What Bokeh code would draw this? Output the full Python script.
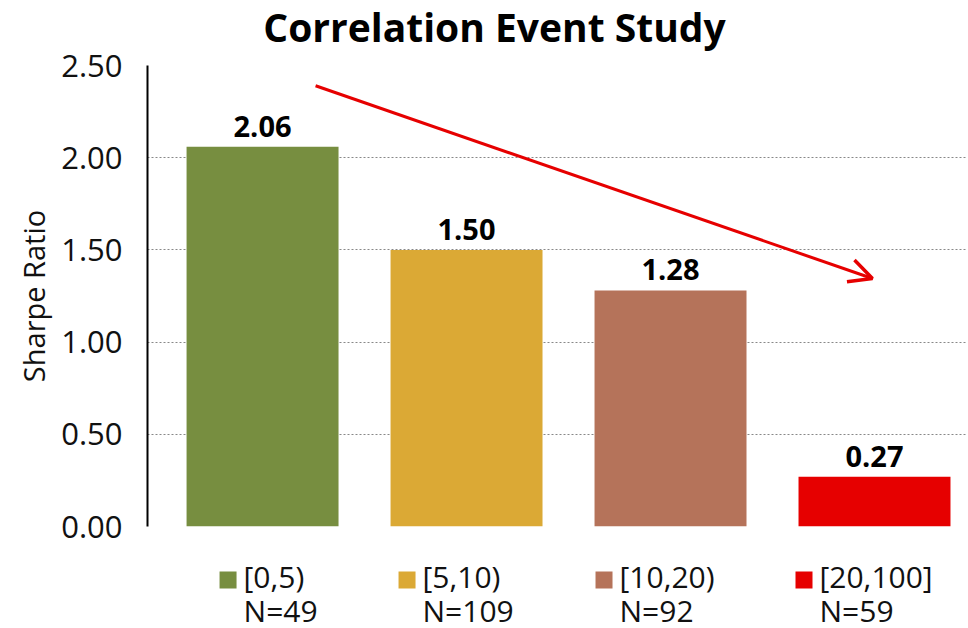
from bokeh.plotting import figure
from bokeh.layouts import column
from bokeh.models import (ColumnDataSource, Range1d, FixedTicker, NumeralTickFormatter,
                          Arrow, OpenHead, LabelSet)
from bokeh.core.properties import value
from bokeh.embed import file_html
from bokeh.resources import INLINE

# Sharpe ratio by correlation bucket
title = "Correlation Event Study"
buckets = ["[0,5)", "[5,10)", "[10,20)", "[20,100]"]
counts = [49, 109, 92, 59]
sharpe = [2.06, 1.50, 1.28, 0.27]
colors = ["#778E40", "#DBA935", "#B5735A", "#E60000"]
y_ticks = [0.0, 0.5, 1.0, 1.5, 2.0, 2.5]

# trend arrow endpoints (bucket index, sharpe)
trend_start = (0.26, 2.39)
trend_end = (2.99, 1.345)

FONT = "Open Sans"
X_MIN, X_MAX = -0.564, 3.451
W, LEFT, RIGHT = 968, 147, 2
HEAD_H, CHART_H, KEY_H = 53, 495, 80
PX_X = (W - LEFT - RIGHT) / (X_MAX - X_MIN)      # pixels per bucket


def bare(fig):
    fig.axis.visible = False
    fig.grid.visible = False
    return fig


x_range = Range1d(X_MIN, X_MAX)

# header strip with the chart title
h = bare(figure(width=W, height=HEAD_H, output_backend="svg", toolbar_location=None,
                x_range=x_range, y_range=Range1d(0, HEAD_H),
                min_border_left=LEFT, min_border_right=RIGHT, min_border_top=0,
                min_border_bottom=0, outline_line_color=None))
h.text(x=[X_MIN + (494 - LEFT) / PX_X], y=[27], text=[title], text_align="center",
       text_baseline="alphabetic", text_font=value(FONT), text_font_size=value("39px"),
       text_font_style="bold", text_color="#000000")

# main bar chart
src = ColumnDataSource(dict(
    x=list(range(len(buckets))),
    top=sharpe,
    color=colors,
    label=[f"{v:.2f}" for v in sharpe],
))

p = figure(width=W, height=CHART_H, output_backend="svg", toolbar_location=None,
           x_range=x_range, y_range=Range1d(0, 2.5),
           min_border_left=LEFT, min_border_right=RIGHT, min_border_top=12,
           min_border_bottom=22, outline_line_color=None)

bars = p.vbar(x="x", top="top", width=0.745, fill_color="color", line_color=None, source=src)

p.add_layout(LabelSet(x="x", y="top", text="label", source=src, text_align="center",
                      text_baseline="bottom", y_offset=10, text_font=value(FONT),
                      text_font_size=value("29px"), text_font_style="bold",
                      text_color="#000000"))

p.add_layout(Arrow(x_start=trend_start[0], y_start=trend_start[1],
                   x_end=trend_end[0], y_end=trend_end[1],
                   line_color="#E60000", line_width=3,
                   end=OpenHead(size=23, line_color="#E60000", line_width=3.5)))

p.xaxis.visible = False
p.xgrid.visible = False
p.yaxis.ticker = FixedTicker(ticks=y_ticks)
p.yaxis.formatter = NumeralTickFormatter(format="0.00")
p.yaxis.major_tick_line_color = None
p.yaxis.minor_tick_line_color = None
p.yaxis.axis_line_color = "#000000"
p.yaxis.axis_line_width = 2
p.yaxis.major_label_text_font = FONT
p.yaxis.major_label_text_font_size = "31px"
p.yaxis.major_label_text_color = "#111111"
p.yaxis.major_label_standoff = 19
p.yaxis.axis_label = "Sharpe Ratio"
p.yaxis.axis_label_text_font = FONT
p.yaxis.axis_label_text_font_size = "29px"
p.yaxis.axis_label_text_font_style = "normal"
p.yaxis.axis_label_text_color = "#111111"
p.yaxis.axis_label_standoff = 5
p.ygrid.ticker = FixedTicker(ticks=y_ticks)
p.ygrid.grid_line_color = "#888888"
p.ygrid.grid_line_dash = "2 2"
p.ygrid.grid_line_width = 1

# key strip under the bars: swatch + bucket name + event count per bucket
key_w = [62, 112, 126, 134]          # horizontal room taken by each key entry
swatch, gap = 17, 7
key_x0 = [i - (swatch + gap + w) / 2 / PX_X for i, w in enumerate(key_w)]
key = ColumnDataSource(dict(
    sw_x=[x + swatch / 2 / PX_X for x in key_x0],
    tx_x=[x + (swatch + gap) / PX_X for x in key_x0],
    sw_y=[48.5] * len(buckets),
    name_y=[52] * len(buckets),
    n_y=[18] * len(buckets),
    color=colors,
    name=buckets,
    n=[f"N={n}" for n in counts],
))

k = bare(figure(width=W, height=KEY_H, output_backend="svg", toolbar_location=None,
                x_range=x_range, y_range=Range1d(0, KEY_H),
                min_border_left=LEFT, min_border_right=RIGHT, min_border_top=0,
                min_border_bottom=0, outline_line_color=None))
k.scatter(x="sw_x", y="sw_y", marker="square", size=swatch, fill_color="color",
          line_color=None, source=key)
for col in ("name", "n"):
    k.text(x="tx_x", y=f"{col}_y", text=col, source=key, text_align="left",
           text_baseline="alphabetic", text_font=value(FONT), text_font_size=value("30px"),
           text_color="#111111")

layout = column(h, p, k, spacing=0)
open("out.html", "w").write(file_html(layout, INLINE))
